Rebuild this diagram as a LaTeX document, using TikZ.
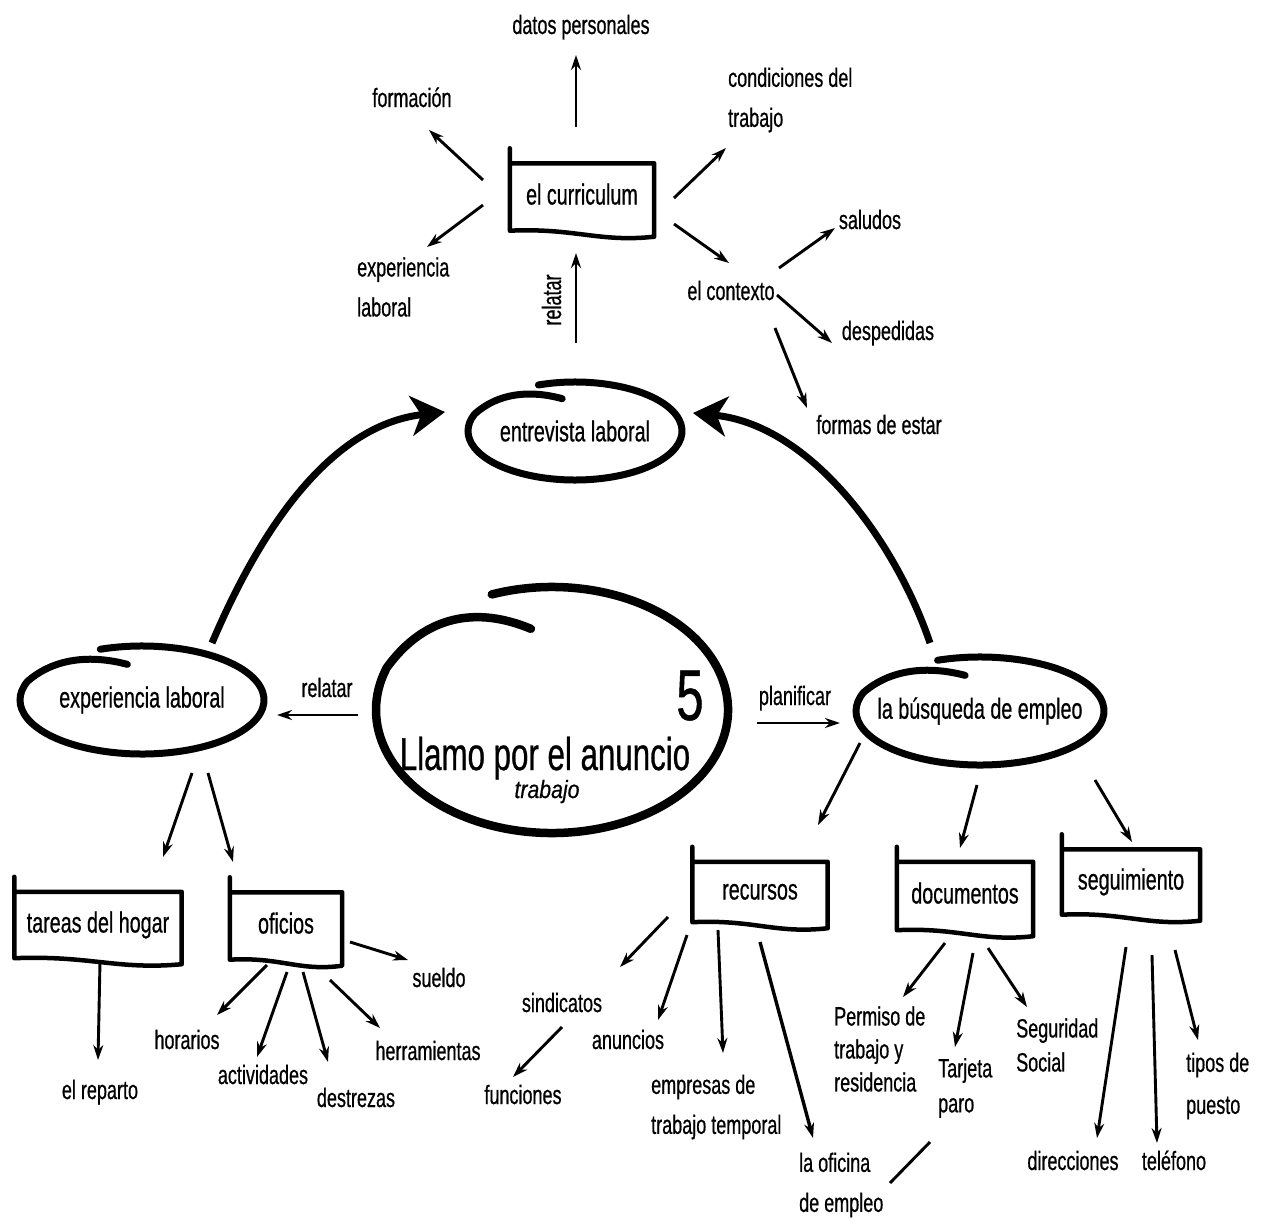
\documentclass[tikz,border=0pt]{standalone}
\usepackage{fontspec}
\setmainfont{Liberation Sans}[FakeStretch=0.68, FakeBold=0.6]
\newfontfamily\widefont{Liberation Sans}[FakeStretch=0.85, FakeBold=0.6]
\usetikzlibrary{arrows.meta,calc,shapes.geometric}

\tikzset{
  lbl/.style={font=\fontsize{26.5}{40}\selectfont, inner sep=1pt, text height=19pt, text depth=5pt},
  mlbl/.style={font=\fontsize{26.5}{#1}\selectfont, inner sep=1pt, align=left, anchor=west},
  mlbl/.default=40,
  boxn/.style={draw=none, inner sep=0pt, font=\fontsize{29}{32}\selectfont, text height=20pt, text depth=5pt},
  elln/.style={ellipse, draw=none, inner sep=0pt, font=\fontsize{29}{32}\selectfont},
  boxline/.style={line width=4.5pt, line join=round, line cap=round},
  arr/.style={line width=2.9pt, -{Stealth[length=15pt,width=10pt]}},
  plainline/.style={line width=2.9pt},
  bigarr/.style={line width=7pt, -{Stealth[length=34pt,width=40pt,inset=10pt]}},
}

\newcommand\handbox[1]{%
  \draw[boxline] ([yshift=15pt]#1.north west) -- (#1.south west)
    .. controls ($(#1.south west)!0.45!(#1.south east)+(0,-3)$) and ($(#1.south west)!0.62!(#1.south east)+(0,12)$) .. ($(#1.south east)+(0,6)$)
    -- (#1.north east) -- (#1.north west);
}
\newcommand\spiral[4]{%
  \draw[line width=#4, line cap=round]
    ($(#1)+(250:#2 and #3)$) arc[start angle=250, end angle=560, x radius=#2, y radius=#3]
    .. controls ($(#1)+({-0.72*#2},{-0.78*#3})$) and ($(#1)+({-0.42*#2},{-0.84*#3})$) .. ($(#1)+({-0.12*#2},{-0.66*#3})$);
}

\begin{document}
\begin{tikzpicture}[x=1pt, y=-1pt]
\fill[white] (0,0) rectangle (1262,1223);
\useasboundingbox (0,0) rectangle (1262,1223);

% ---------- top cluster ----------
\node[lbl] (dat) at (581,27) {datos personales};
\node[lbl] (form) at (412,100) {formación};
\node[mlbl] (cond) at (727,100) {condiciones del\\trabajo};
\node[boxn, minimum width=144pt, minimum height=67pt] (curr) at (582,197) {el curriculum};
\node[mlbl] (expt) at (356,287) {experiencia\\laboral};
\node[lbl] (ctx) at (731,293) {el contexto};
\node[lbl] (sal) at (870,222) {saludos};
\node[lbl] (desp) at (888,333) {despedidas};
\node[lbl] (formas) at (879,427) {formas de estar};
\node[lbl, rotate=90] (rel2) at (554,300) {relatar};

% ---------- ellipses ----------
\node[elln, minimum width=215pt, minimum height=98pt] (entr) at (575,431) {entrevista laboral};
\node[elln, minimum width=244pt, minimum height=108pt] (exp) at (142,700) {experiencia laboral};
\node[elln, minimum width=248pt, minimum height=108pt] (bus) at (980,711) {la búsqueda de empleo};
\node[ellipse, draw=none, minimum width=352pt, minimum height=246pt, inner sep=0pt] (main) at (552,710) {};
\node[font=\fontsize{46}{50}\selectfont, anchor=base, inner sep=0pt] (llamo) at (545,770) {Llamo por el anuncio};
\node[font=\widefont\itshape\fontsize{25}{28}\selectfont, anchor=base, inner sep=0pt] (trab) at (547,798) {trabajo};
\node[font=\fontsize{72}{72}\selectfont, anchor=base, inner sep=0pt] (five) at (690,720) {5};
\node[lbl] (rel1) at (327,690) {relatar};
\node[lbl] (plan) at (795,698) {planificar};

\spiral{entr}{107}{49}{7pt}
\spiral{exp}{122}{54}{7pt}
\spiral{bus}{124}{54}{7pt}
\spiral{main}{176}{123}{8.5pt}

% ---------- boxes ----------
\node[boxn, minimum width=167pt, minimum height=66pt] (tar) at (98,925) {tareas del hogar};
\node[boxn, minimum width=112pt, minimum height=67pt] (ofi) at (286,926) {oficios};
\node[boxn, minimum width=135pt, minimum height=60pt] (rec) at (760,892) {recursos};
\node[boxn, minimum width=136pt, minimum height=68pt] (doc) at (965,896) {documentos};
\node[boxn, minimum width=138pt, minimum height=65pt] (seg) at (1131,882) {seguimiento};
\handbox{curr}
\handbox{tar}
\handbox{ofi}
\handbox{rec}
\handbox{doc}
\handbox{seg}

% ---------- bottom labels ----------
\node[lbl] (rep) at (100,1092) {el reparto};
\node[lbl] (sue) at (439,980) {sueldo};
\node[lbl] (hor) at (187,1042) {horarios};
\node[lbl] (act) at (263,1077) {actividades};
\node[lbl] (des) at (356,1100) {destrezas};
\node[lbl] (her) at (428,1053) {herramientas};
\node[lbl] (sin) at (562,1005) {sindicatos};
\node[lbl] (fun) at (523,1097) {funciones};
\node[lbl] (anu) at (628,1042) {anuncios};
\node[mlbl] (emp) at (650,1107) {empresas de\\trabajo temporal};
\node[mlbl] (ofe) at (798,1185) {la oficina\\de empleo};
\node[mlbl=33] (per) at (833,1049) {Permiso de\\trabajo y\\residencia};
\node[mlbl=35] (tarj) at (937,1088) {Tarjeta\\paro};
\node[mlbl=34] (ss) at (1015,1045) {Seguridad\\Social};
\node[lbl] (dir) at (1073,1163) {direcciones};
\node[lbl] (tel) at (1174,1163) {teléfono};
\node[mlbl=42] (tip) at (1185,1086) {tipos de\\puesto};

% ---------- connectors: top ----------
\draw[arr] ([shift={(-6,-70)}]curr.center) -- ([shift={(-5,28)}]dat.center);
\draw[arr] ([shift={(-99,-17)}]curr.center) -- ([shift={(17,30)}]form.center);
\draw[arr] ([shift={(92,1)}]curr.center) -- ([shift={(-1,48)}]cond.west);
\draw[arr] ([shift={(-99,8)}]curr.center) -- ([shift={(71,-40)}]expt.west);
\draw[arr] ([shift={(1,-88)}]entr.center) -- ([shift={(-6,56)}]curr.center);
\draw[arr] ([shift={(92,27)}]curr.center) -- ([shift={(-2,-30)}]ctx.center);
\draw[arr] ([shift={(48,-25)}]ctx.center) -- ([shift={(-35,6)}]sal.center);
\draw[arr] ([shift={(46,2)}]ctx.center) -- ([shift={(-56,10)}]desp.center);
\draw[arr] ([shift={(44,35)}]ctx.center) -- ([shift={(-72,-19)}]formas.center);

% ---------- big curved arrows ----------
\draw[bigarr] ([shift={(70,-57)}]exp.center) .. controls (260,530) and (330,425) .. ([shift={(-130,-19)}]entr.center);
\draw[bigarr] ([shift={(-50,-68)}]bus.center) .. controls (895,540) and (810,425) .. ([shift={(118,-18)}]entr.center);

% ---------- center ----------
\draw[arr] ([shift={(-194,5)}]main.center) -- ([shift={(135,15)}]exp.center);
\draw[arr] ([shift={(205,13)}]main.center) -- ([shift={(-140,12)}]bus.center);

% ---------- left ----------
\draw[arr] ([shift={(50,73)}]exp.center) -- ([shift={(65,-68)}]tar.center);
\draw[arr] ([shift={(66,73)}]exp.center) -- ([shift={(-53,-64)}]ofi.center);
\draw[arr] ([shift={(2,37)}]tar.center) -- ([shift={(-2,-32)}]rep.center);
\draw[arr] ([shift={(64,16)}]ofi.center) -- ([shift={(-31,-20)}]sue.center);
\draw[arr] ([shift={(-19,39)}]ofi.center) -- ([shift={(30,-27)}]hor.center);
\draw[arr] ([shift={(1,46)}]ofi.center) -- ([shift={(-6,-20)}]act.center);
\draw[arr] ([shift={(17,46)}]ofi.center) -- ([shift={(-28,-38)}]des.center);
\draw[arr] ([shift={(44,54)}]ofi.center) -- ([shift={(-48,-25)}]her.center);

% ---------- right ----------
\draw[arr] ([shift={(-120,32)}]bus.center) -- ([shift={(58,-67)}]rec.center);
\draw[arr] ([shift={(-3,74)}]bus.center) -- ([shift={(-5,-48)}]doc.center);
\draw[arr] ([shift={(115,69)}]bus.center) -- ([shift={(1,-40)}]seg.center);

\draw[arr] ([shift={(-92,25)}]rec.center) -- ([shift={(58,-38)}]sin.center);
\draw[arr] ([shift={(0,22)}]sin.center) -- ([shift={(-10,-20)}]fun.center);
\draw[arr] ([shift={(-73,43)}]rec.center) -- ([shift={(30,-22)}]anu.center);
\draw[arr] ([shift={(-42,38)}]rec.center) -- ([shift={(73,-54)}]emp.west);
\draw[arr, line width=3.4pt] ([shift={(0,50)}]rec.center) -- ([shift={(15,-47)}]ofe.west);

\draw[arr] ([shift={(-20,47)}]doc.center) -- ([shift={(70,-52)}]per.west);
\draw[arr] ([shift={(8,57)}]doc.center) -- ([shift={(18,-41)}]tarj.west);
\draw[arr] ([shift={(23,52)}]doc.center) -- ([shift={(12,-38)}]ss.west);
\draw[plainline] ([shift={(-7,54)}]tarj.west) -- ([shift={(92,-2)}]ofe.west);

\draw[arr] ([shift={(-5,65)}]seg.center) -- ([shift={(24,-25)}]dir.center);
\draw[arr] ([shift={(21,73)}]seg.center) -- ([shift={(-17,-20)}]tel.center);
\draw[arr] ([shift={(44,68)}]seg.center) -- ([shift={(13,-46)}]tip.west);
\end{tikzpicture}
\end{document}
